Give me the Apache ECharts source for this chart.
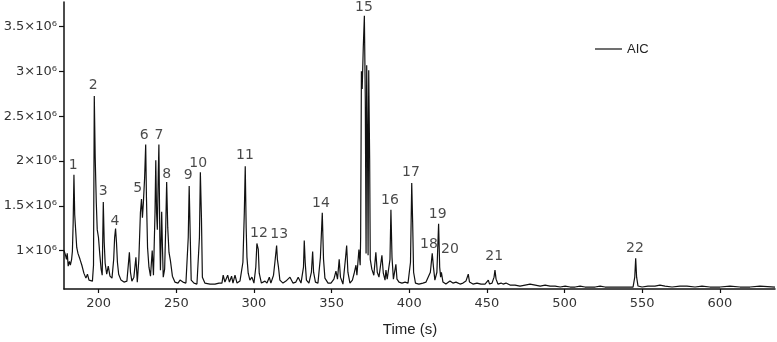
<!DOCTYPE html>
<html>
<head>
<meta charset="utf-8">
<script src="https://cdn.jsdelivr.net/npm/echarts@6/dist/echarts.min.js"></script>
<style>html,body{margin:0;padding:0;background:#fff}#c{width:777px;height:342px}</style>
</head>
<body>
<div id="c"></div>
<script>
// Retention time (s)
const times = [
177.7,178.7,179.3,179.8,180.4,181.2,181.8,182.6,183.1,183.6,184.1,184.6,185.2,185.9,186.7,188.0,189.2,190.5,191.8,192.8,193.8,195.0,196.0,196.7,
197.2,197.8,198.5,199.1,199.9,200.8,201.6,202.3,203.0,203.6,204.2,205.2,206.2,207.3,208.6,209.7,210.3,210.9,211.5,212.1,212.9,214.4,216.3,218.2,
219.8,220.5,221.4,222.7,224.0,224.9,225.9,226.9,227.6,228.2,228.8,229.6,230.3,230.8,231.5,232.4,233.4,234.5,235.3,236.3,236.8,237.3,237.8,238.4,
238.8,239.4,239.8,240.6,241.1,241.6,242.5,243.2,243.8,244.5,245.3,246.2,247.5,249.1,251.1,252.4,254.3,256.2,257.7,258.3,259.0,259.6,261.4,263.3,
264.9,265.5,266.2,266.8,268.4,271.7,274.9,277.5,279.4,280.2,281.3,283.1,284.2,285.6,286.5,287.8,289.1,291.0,292.9,293.8,294.4,295.0,295.5,296.3,
297.4,298.7,300.0,301.2,301.9,302.8,303.4,304.8,307.1,308.4,309.9,310.9,312.6,313.5,314.6,315.1,315.8,316.7,318.7,320.6,323.2,325.1,327.0,328.5,
330.3,331.9,332.4,333.0,333.8,335.4,337.0,337.8,338.4,339.6,341.2,342.8,344.0,344.8,345.7,347.7,349.6,351.5,352.8,353.8,354.9,355.7,357.3,358.9,
359.7,360.5,361.8,363.4,364.7,365.7,366.3,367.6,368.4,368.7,369.2,369.7,370.4,371.1,371.7,372.2,372.6,373.1,373.5,373.9,374.5,374.9,375.9,377.2,
378.5,379.4,380.5,382.4,383.3,384.4,385.0,385.8,386.9,387.6,388.2,388.9,389.8,390.8,391.4,392.1,393.4,395.3,397.3,399.2,400.8,401.6,402.2,402.8,
404.0,406.2,408.8,410.8,412.0,413.6,414.8,415.6,416.5,417.8,418.9,419.6,420.2,420.7,421.7,423.6,426.2,428.1,430.1,432.7,434.6,436.5,438.0,438.8,
441.0,443.6,446.2,448.8,450.9,451.7,453.3,454.6,455.2,455.9,457.1,459.1,460.4,462.3,464.9,468.1,471.3,474.6,477.8,481.1,484.3,487.5,490.7,493.9,
497.2,500.4,503.6,506.8,510.0,513.2,516.4,519.7,522.9,526.1,529.3,532.5,535.7,539.0,542.2,544.1,545.2,545.8,546.4,547.3,549.9,553.7,558.2,561.4,
564.7,569.2,574.3,578.8,584.0,588.5,593.6,600.1,606.5,613.0,619.4,625.8,635.5
];
// Abundance (AIC)
const abundance = [
1003000,948000,904000,970000,827000,882000,838000,904000,992000,1312000,1846000,1400000,1404000,1036000,970000,904000,838000,750000,694000,738000,672000,694000,661000,838000,
2725000,2030000,1533000,1235000,1147000,948000,794000,727000,1544000,1092000,860000,738000,827000,716000,694000,904000,1147000,1246000,1092000,871000,738000,672000,650000,661000,
981000,760000,661000,705000,926000,650000,904000,1423000,1577000,1368000,1533000,1809000,2184000,1588000,1036000,816000,716000,1003000,727000,1423000,2008000,1423000,1235000,1864000,
2184000,1147000,783000,1434000,1036000,705000,794000,1257000,1765000,1257000,981000,893000,716000,650000,639000,672000,650000,639000,1147000,1721000,1147000,672000,639000,628000,
1147000,1875000,1368000,705000,639000,628000,628000,639000,639000,727000,650000,727000,650000,716000,639000,727000,639000,661000,871000,1423000,1942000,1257000,926000,749000,
672000,705000,639000,816000,1081000,1014000,749000,639000,661000,639000,705000,639000,727000,871000,1058000,904000,816000,672000,639000,661000,705000,639000,650000,705000,
639000,816000,1114000,871000,672000,639000,760000,992000,760000,650000,639000,926000,1423000,904000,694000,639000,639000,683000,772000,683000,904000,705000,628000,904000,
1058000,760000,639000,672000,760000,838000,727000,1014000,838000,1147000,3000000,2802000,3266000,3620000,2692000,970000,3068000,2250000,948000,3013000,2030000,904000,794000,727000,
981000,760000,705000,948000,749000,672000,783000,683000,661000,904000,1456000,926000,683000,705000,849000,683000,650000,639000,650000,639000,871000,1754000,1312000,760000,
639000,628000,639000,650000,628000,760000,970000,816000,672000,760000,1301000,816000,705000,760000,650000,628000,661000,639000,650000,628000,639000,661000,738000,650000,
628000,639000,628000,628000,672000,628000,639000,705000,783000,683000,628000,639000,628000,639000,617000,617000,606000,617000,628000,617000,606000,617000,606000,606000,
595000,606000,595000,595000,606000,595000,595000,595000,606000,595000,595000,595000,595000,595000,595000,595000,705000,915000,705000,606000,595000,606000,606000,617000,
606000,595000,606000,606000,595000,606000,595000,595000,606000,595000,595000,606000,595000
];
// Peak numbers and their label anchor positions
const peakNames = ['1','2','3','4','5','6','7','8','9','10','11','12','13','14','15','16','17','18','19','20','21','22'];
const peakLabelTimes = [183.6,196.5,203.0,210.5,225.1,229.4,238.8,243.8,257.7,264.1,294.2,303.2,316.3,343.1,370.8,387.6,401.1,412.7,418.3,426.2,454.7,545.3];
const peakLabelValues = [1953000,2839000,1662000,1323000,1699000,2287000,2284000,1853000,1839000,1975000,2060000,1194000,1177000,1533000,3715000,1563000,1872000,1073000,1404000,1011000,937000,1025000];
const xTicks = [200,250,300,350,400,450,500,550,600];
const yTicks = [1000000,1500000,2000000,2500000,3000000,3500000];
const yTickLabels = ['1×10⁶','1.5×10⁶','2×10⁶','2.5×10⁶','3×10⁶','3.5×10⁶'];

const chart = echarts.init(document.getElementById('c'), null, {renderer: 'canvas'});
const lineData = times.map((t, i) => [t, abundance[i]]);
const labelData = peakNames.map((n, i) => ({name: n, value: [peakLabelTimes[i], peakLabelValues[i]]}));

chart.setOption({
  animation: false,
  backgroundColor: '#fff',
  grid: {left: 64, right: 2, top: 2, bottom: 50, containLabel: false},
  legend: {
    data: [{name: 'AIC', icon: 'rect'}],
    left: 590, top: 36.5,
    itemWidth: 27, itemHeight: 1.3, itemGap: 5,
    itemStyle: {color: '#222', borderWidth: 0},
    textStyle: {fontFamily: 'Liberation Sans', fontSize: 13, color: '#222', lineHeight: 15}
  },
  xAxis: {
    type: 'value', min: 177.7, max: 635.5,
    name: 'Time (s)', nameLocation: 'middle', nameGap: 33,
    nameTextStyle: {fontFamily: 'Liberation Sans', fontSize: 15, color: '#222', padding: [0, 19, 0, 0]},
    axisLine: {show: true, onZero: false, lineStyle: {color: '#111', width: 1.5}},
    axisTick: {show: true, length: 4, customValues: xTicks, lineStyle: {color: '#111', width: 1.2}},
    axisLabel: {customValues: xTicks, margin: 8, fontFamily: 'DejaVu Sans', fontSize: 13, color: '#333'},
    splitLine: {show: false}
  },
  yAxis: {
    type: 'value', min: 573000, max: 3773000,
    axisLine: {show: true, onZero: false, lineStyle: {color: '#111', width: 1.5}},
    axisTick: {show: true, length: 5, customValues: yTicks, lineStyle: {color: '#111', width: 1.2}},
    axisLabel: {
      customValues: yTicks, margin: 7, fontFamily: 'DejaVu Sans', fontSize: 13, color: '#333',
      formatter: function (v) { const i = yTicks.indexOf(v); return i >= 0 ? yTickLabels[i] : ''; }
    },
    splitLine: {show: false}
  },
  series: [
    {
      name: 'AIC', type: 'line', data: lineData, symbol: 'none',
      lineStyle: {color: '#111', width: 1.2}, itemStyle: {color: '#111'}
    },
    {
      name: 'peaks', type: 'scatter', data: labelData, symbolSize: 0,
      label: {show: true, position: 'inside', formatter: '{b}', fontFamily: 'DejaVu Sans', fontSize: 14, color: '#1a1a1a'},
      silent: true
    }
  ]
});
</script>
</body>
</html>
